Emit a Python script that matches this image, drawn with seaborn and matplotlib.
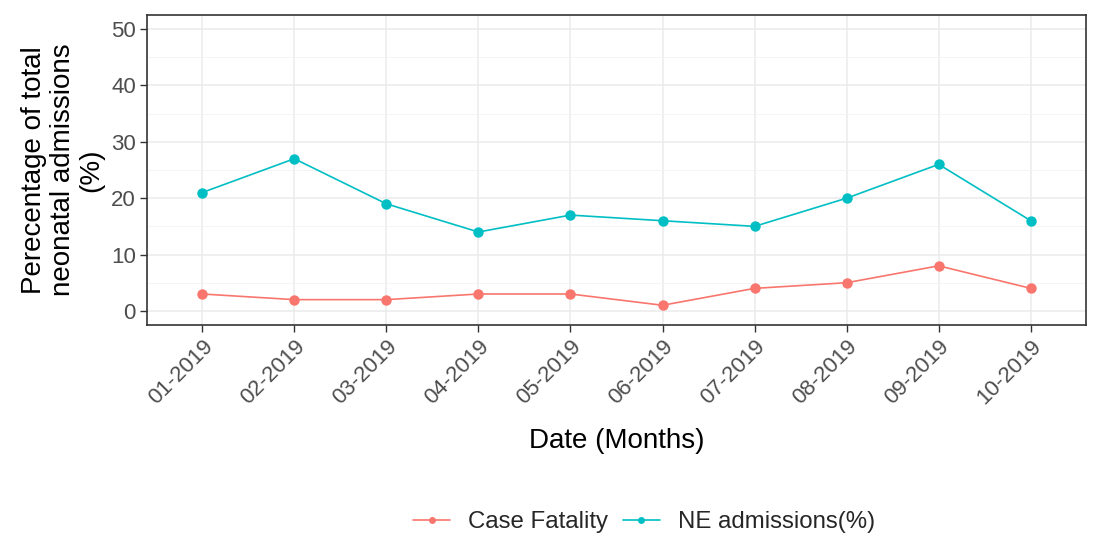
import matplotlib
matplotlib.use("Agg")
import matplotlib.pyplot as plt
import seaborn as sns
import pandas as pd
from matplotlib.ticker import MultipleLocator

months = ["01-2019", "02-2019", "03-2019", "04-2019", "05-2019",
          "06-2019", "07-2019", "08-2019", "09-2019", "10-2019"]
case_fatality = [3, 2, 2, 3, 3, 1, 4, 5, 8, 4]
ne_admissions = [21, 27, 19, 14, 17, 16, 15, 20, 26, 16]
series_names = ["Case Fatality", "NE admissions(%)"]

df = pd.DataFrame({
    "Date": months * 2,
    "Value": case_fatality + ne_admissions,
    "Series": [series_names[0]] * len(months) + [series_names[1]] * len(months),
})
df["pos"] = list(range(len(months))) * 2

sns.set_theme(style="white")
plt.rcParams['font.family'] = ['Liberation Sans', 'DejaVu Sans']

fig = plt.figure(figsize=(10.95, 5.36), dpi=100)
ax = fig.add_axes([147/1095, 1-325/536, (1086-147)/1095, (325-15)/536])

palette = {series_names[0]: "#F8766D", series_names[1]: "#00BFC4"}
sns.lineplot(data=df, x="pos", y="Value", hue="Series", palette=palette,
             marker="o", markersize=7.5, markeredgewidth=0, linewidth=1.2,
             ax=ax, legend=True)

ax.set_xlim(-0.6, len(months) - 1 + 0.6)
ax.set_ylim(-2.5, 52.5)
ax.set_xticks(range(len(months)))
ax.set_xticklabels(months, rotation=45, ha="right", rotation_mode="anchor")
ax.yaxis.set_major_locator(MultipleLocator(10))
ax.yaxis.set_minor_locator(MultipleLocator(5))
ax.grid(True, which="major", color="#EBEBEB", linewidth=1.1)
ax.grid(True, which="minor", axis="y", color="#F2F2F2", linewidth=0.6)
ax.set_axisbelow(True)
for s in ax.spines.values():
    s.set_color("#333333")
    s.set_linewidth(1.2)
ax.tick_params(axis="both", which="major", length=5, width=1, color="#333333",
               labelsize=16, labelcolor="#4D4D4D", bottom=True, left=True, pad=3)
ax.tick_params(axis="both", which="minor", length=0)

ax.set_xlabel("Date (Months)", fontsize=20, color="black", labelpad=14)
ax.set_ylabel("Perecentage of total\nneonatal admissions\n(%)", fontsize=20,
              color="black", linespacing=1.12, labelpad=5)

handles, labels = ax.get_legend_handles_labels()
ax.legend_.remove()
leg = fig.legend(handles, labels, loc="center", bbox_to_anchor=(644/1095, 1-522/536),
                 ncol=2, frameon=False, fontsize=17.3, handlelength=1.55,
                 columnspacing=0.6, handletextpad=0.75)
for h in leg.legend_handles:
    h.set_markersize(5)

fig.savefig("out.png", dpi=100)
